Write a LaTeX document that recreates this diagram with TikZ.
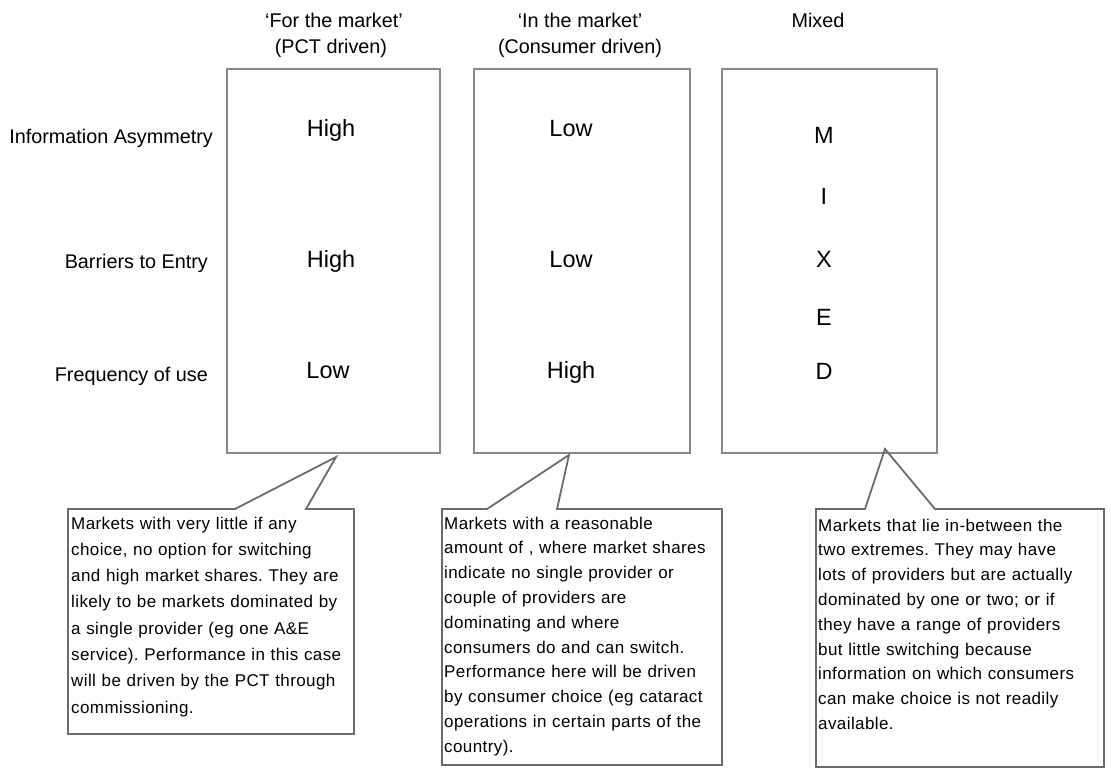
\documentclass[tikz,border=0pt]{standalone}
\usepackage{fontspec}
\setmainfont{Liberation Sans}
\newfontfamily\calfam[LetterSpace=2.4]{Liberation Sans}
\definecolor{boxgray}{RGB}{136,136,136}
\definecolor{callgray}{RGB}{108,108,108}
\tikzset{
  colbox/.style={draw=boxgray, line width=2pt, inner sep=0pt, outer sep=0pt},
  hdr/.style={font=\fontsize{19.8}{24}\selectfont, anchor=base, inner sep=0pt},
  rowlbl/.style={font=\fontsize{19.8}{24}\selectfont, anchor=base east, inner sep=0pt},
  val/.style={font=\fontsize{23.5}{28}\selectfont, anchor=base, inner sep=0pt},
  calltext/.style={font=\calfam\fontsize{17}{24.8}\selectfont\frenchspacing, anchor=base west, inner sep=0pt, text width=300pt, align=left},
  callshape/.style={draw=callgray, line width=1.8pt, line join=miter},
}
\begin{document}
\begin{tikzpicture}[x=1pt,y=-1pt]
\useasboundingbox (0,0) rectangle (1111,769);

% column boxes
\node[colbox, minimum width=213pt, minimum height=384pt] (b1) at (333.5,261) {};
\node[colbox, minimum width=216pt, minimum height=384pt] (b2) at (582,261) {};
\node[colbox, minimum width=215pt, minimum height=384pt] (b3) at (829.5,261) {};

% headers
\node[hdr] (h1a) at (334,27) {‘For the market’};
\node[hdr] (h1b) at (331,53) {(PCT driven)};
\node[hdr] (h2a) at (580,27) {‘In the market’};
\node[hdr] (h2b) at (580,53) {(Consumer driven)};
\node[hdr] (h3a) at (818,27) {Mixed};

% row labels
\node[rowlbl] (r1) at (213,143) {Information Asymmetry};
\node[rowlbl] (r2) at (208,268) {Barriers to Entry};
\node[rowlbl] (r3) at (208,381) {Frequency of use};

% values
\node[val] (v11) at (331,136) {High};
\node[val] (v12) at (331,267) {High};
\node[val] (v13) at (328,378) {Low};
\node[val] (v21) at (571,136) {Low};
\node[val] (v22) at (571,267) {Low};
\node[val] (v23) at (571,378) {High};
\node[val] (m1) at (824,143) {M};
\node[val] (m2) at (824,204) {I};
\node[val] (m3) at (824,267) {X};
\node[val] (m4) at (824,325) {E};
\node[val] (m5) at (824,379) {D};

% callout tips
\coordinate (t1) at (336,457);
\coordinate (t2) at (569,455);
\coordinate (t3) at (885,449);

% callout shapes
\draw[callshape] (68,509) -- (235,509) -- (t1) -- (306,509) -- (354,509) -- (354,734) -- (68,734) -- cycle;
\draw[callshape] (442,509) -- (487,509) -- (t2) -- (557,509) -- (722,509) -- (722,765) -- (442,765) -- cycle;
\draw[callshape] (816,509) -- (865,509) -- (t3) -- (935,509) -- (1104,509) -- (1104,767) -- (816,767) -- cycle;

% callout texts
\node[calltext, font=\calfam\fontsize{17}{26.3}\selectfont\frenchspacing] (c1) at (71,529) {Markets with very little if any\\
choice, no option for switching\\
and high market shares. They are\\
likely to be markets dominated by\\
a single provider (eg one A\&E\\
service). Performance in this case\\
will be driven by the PCT through\\
commissioning.};

\node[calltext] (c2) at (444,529) {Markets with a reasonable\\
amount of , where market shares\\
indicate no single provider or\\
couple of providers are\\
dominating and where\\
consumers do and can switch.\\
Performance here will be driven\\
by consumer choice (eg cataract\\
operations in certain parts of the\\
country).};

\node[calltext] (c3) at (818,531) {Markets that lie in-between the\\
two extremes. They may have\\
lots of providers but are actually\\
dominated by one or two; or if\\
they have a range of providers\\
but little switching because\\
information on which consumers\\
can make choice is not readily\\
available.};
\end{tikzpicture}
\end{document}
